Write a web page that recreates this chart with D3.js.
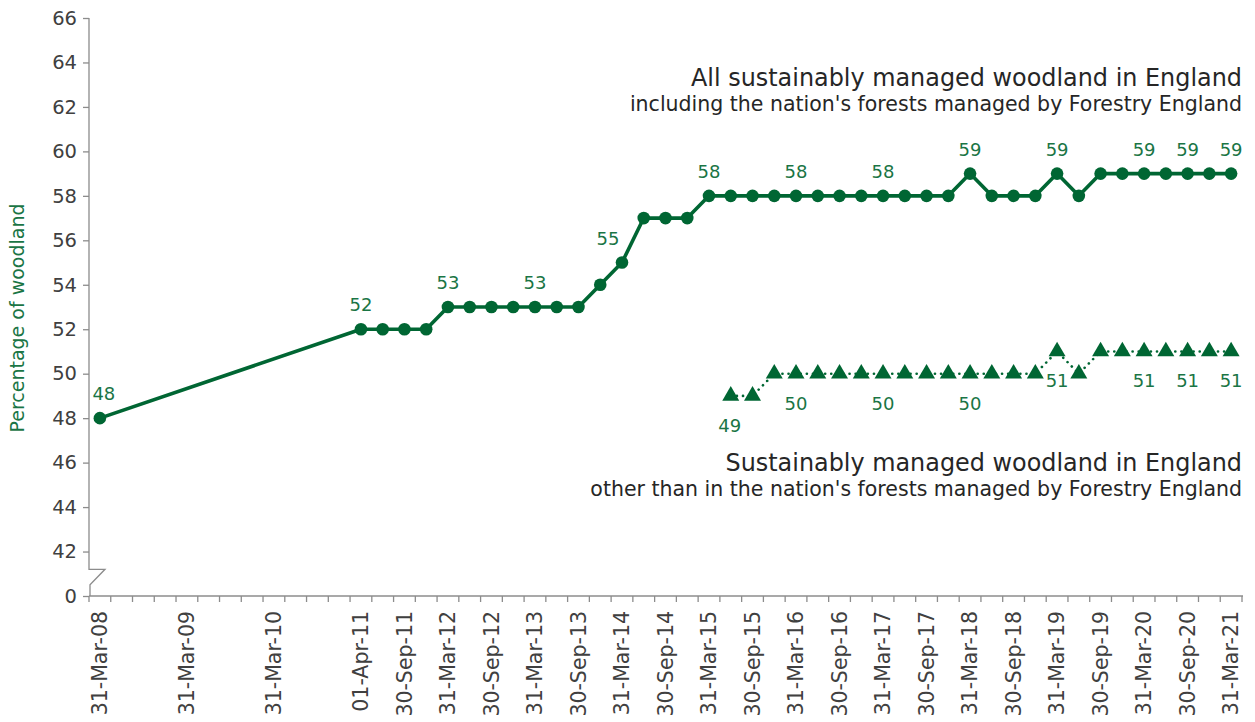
<!DOCTYPE html>
<html><head><meta charset="utf-8">
<script src="https://cdn.jsdelivr.net/npm/d3@7"></script>
<style>
body{margin:0;background:#fff;}
svg text{font-family:"DejaVu Sans",Verdana,sans-serif;}
</style></head>
<body><svg id="c" width="1255" height="722"></svg>
<script>
const categories = ["31-Mar-08","30-Jun-08","30-Sep-08","31-Dec-08","31-Mar-09","30-Jun-09","30-Sep-09","31-Dec-09","31-Mar-10","30-Jun-10","30-Sep-10","31-Dec-10",
"01-Apr-11","30-Jun-11","30-Sep-11","31-Dec-11","31-Mar-12","30-Jun-12","30-Sep-12","31-Dec-12","31-Mar-13","30-Jun-13","30-Sep-13","31-Dec-13",
"31-Mar-14","30-Jun-14","30-Sep-14","31-Dec-14","31-Mar-15","30-Jun-15","30-Sep-15","31-Dec-15","31-Mar-16","30-Jun-16","30-Sep-16","31-Dec-16",
"31-Mar-17","30-Jun-17","30-Sep-17","31-Dec-17","31-Mar-18","30-Jun-18","30-Sep-18","31-Dec-18","31-Mar-19","30-Jun-19","30-Sep-19","31-Dec-19",
"31-Mar-20","30-Jun-20","30-Sep-20","31-Dec-20","31-Mar-21"];
const shownTickLabels = ["31-Mar-08","31-Mar-09","31-Mar-10","01-Apr-11","30-Sep-11","31-Mar-12","30-Sep-12","31-Mar-13","30-Sep-13","31-Mar-14","30-Sep-14",
"31-Mar-15","30-Sep-15","31-Mar-16","30-Sep-16","31-Mar-17","30-Sep-17","31-Mar-18","30-Sep-18","31-Mar-19","30-Sep-19","31-Mar-20","30-Sep-20","31-Mar-21"];
const allWoodland = [48,null,null,null,null,null,null,null,null,null,null,null,
52,52,52,52,53,53,53,53,53,53,53,54,
55,57,57,57,58,58,58,58,58,58,58,58,
58,58,58,58,59,58,58,58,59,58,59,59,
59,59,59,59,59];
const otherWoodland = [null,null,null,null,null,null,null,null,null,null,null,null,
null,null,null,null,null,null,null,null,null,null,null,null,
null,null,null,null,null,49,49,50,50,50,50,50,
50,50,50,50,50,50,50,50,51,50,51,51,
51,51,51,51,51];
const allLabelled = ["31-Mar-08","01-Apr-11","31-Mar-12","31-Mar-13","31-Mar-14","31-Mar-15","31-Mar-16","31-Mar-17","31-Mar-18","31-Mar-19","31-Mar-20","30-Sep-20","31-Mar-21"];
const otherLabelled = ["30-Jun-15","31-Mar-16","31-Mar-17","31-Mar-18","31-Mar-19","31-Mar-20","30-Sep-20","31-Mar-21"];
const yTickValues = [40,42,44,46,48,50,52,54,56,58,60,62,64,66];
const yTickLabels = ["0","42","44","46","48","50","52","54","56","58","60","62","64","66"];
const titleAll = ["All sustainably managed woodland in England","including the nation's forests managed by Forestry England"];
const titleOther = ["Sustainably managed woodland in England","other than in the nation's forests managed by Forestry England"];
const yTitle = "Percentage of woodland";

const GREEN = "#006633", LGREEN = "#1a7545", AX = "#8c8c8c", TXT = "#404040";
const svg = d3.select("#c");
const L = 89, R = 1242, T = 18, B = 596;
const x = d3.scaleBand().domain(categories).range([L, R]);
const y = d3.scaleLinear().domain([40, 66]).range([B, T]);

// Y axis ticks
const yAxis = d3.axisLeft(y).tickValues(yTickValues).tickSize(6)
  .tickFormat(d=>yTickLabels[yTickValues.indexOf(d)]);
const gy = svg.append("g").attr("transform",`translate(${L},0)`).call(yAxis);
gy.select(".domain").remove();
gy.selectAll(".tick line").attr("stroke",AX).attr("stroke-width",1.3);
gy.selectAll(".tick text").attr("fill",TXT).attr("font-size","19.5px").attr("x",-12);
// Y axis line with break
svg.append("path").attr("d",`M${L},${T}L${L},${y(41.2)}L${L+16},${y(41.2)}L${L+1},${y(40.5)}L${L+1},${B}`)
  .attr("fill","none").attr("stroke",AX).attr("stroke-width",1.3);

// X axis
svg.append("line").attr("x1",L).attr("x2",R+1).attr("y1",B).attr("y2",B).attr("stroke",AX).attr("stroke-width",1.3);
const bounds = categories.map(c=>x(c)).concat([x(categories[categories.length-1])+x.bandwidth()]);
svg.append("g").selectAll("line").data(bounds).join("line")
  .attr("x1",d=>d).attr("x2",d=>d).attr("y1",B).attr("y2",B+6).attr("stroke",AX).attr("stroke-width",1.3);
const xAxis = d3.axisBottom(x).tickSize(0).tickFormat(d=>shownTickLabels.includes(d)?d:"");
const gx = svg.append("g").attr("transform",`translate(0,${B})`).call(xAxis);
gx.select(".domain").remove();
gx.selectAll(".tick text").attr("fill",TXT).attr("font-size","20.5px")
  .attr("transform","rotate(-90)").attr("text-anchor","end").attr("x",-15).attr("y",0).attr("dy","0.35em");

const cx = d=>x(d.c)+x.bandwidth()/2;
const mainPts = categories.map((c,i)=>({c,v:allWoodland[i]})).filter(d=>d.v!=null);
const otherPts = categories.map((c,i)=>({c,v:otherWoodland[i]})).filter(d=>d.v!=null);
const line = d3.line().x(cx).y(d=>y(d.v));

svg.append("path").datum(otherPts).attr("d",line).attr("fill","none").attr("stroke",GREEN)
  .attr("stroke-width",2.6).attr("stroke-dasharray","0.1,6").attr("stroke-linecap","round");
svg.append("g").selectAll("path").data(otherPts).join("path")
  .attr("d",d3.symbol(d3.symbolTriangle,125)).attr("fill",GREEN)
  .attr("transform",d=>`translate(${cx(d)},${y(d.v)})`);

svg.append("path").datum(mainPts).attr("d",line).attr("fill","none").attr("stroke",GREEN)
  .attr("stroke-width",3.6).attr("stroke-linejoin","round");
svg.append("g").selectAll("circle").data(mainPts).join("circle")
  .attr("cx",cx).attr("cy",d=>y(d.v)).attr("r",6.3).attr("fill",GREEN);

// data labels
svg.append("g").selectAll("text").data(mainPts.filter(d=>allLabelled.includes(d.c))).join("text")
  .attr("x",d=>cx(d)+(d.c==="31-Mar-14"?-14:(d.c==="31-Mar-08"?4:0))).attr("y",d=>y(d.v)-18)
  .attr("text-anchor","middle").attr("font-size","18px").attr("fill",LGREEN).text(d=>d.v);
svg.append("g").selectAll("text").data(otherPts.filter(d=>otherLabelled.includes(d.c))).join("text")
  .attr("x",d=>cx(d)+(d.c==="30-Jun-15"?-1:0)).attr("y",d=>y(d.v)+36)
  .attr("text-anchor","middle").attr("font-size","18px").attr("fill",LGREEN).text(d=>d.v);

// titles
svg.append("text").attr("x",R).attr("y",86).attr("text-anchor","end").attr("font-size","23.9px").attr("fill","#262626").text(titleAll[0]);
svg.append("text").attr("x",R).attr("y",111).attr("text-anchor","end").attr("font-size","20.5px").attr("fill","#262626").text(titleAll[1]);
svg.append("text").attr("x",R).attr("y",471).attr("text-anchor","end").attr("font-size","23.9px").attr("fill","#262626").text(titleOther[0]);
svg.append("text").attr("x",R).attr("y",496).attr("text-anchor","end").attr("font-size","20.5px").attr("fill","#262626").text(titleOther[1]);

svg.append("text").attr("transform","translate(24,318) rotate(-90)").attr("text-anchor","middle")
  .attr("font-size","19px").attr("fill",LGREEN).text(yTitle);
</script></body></html>
